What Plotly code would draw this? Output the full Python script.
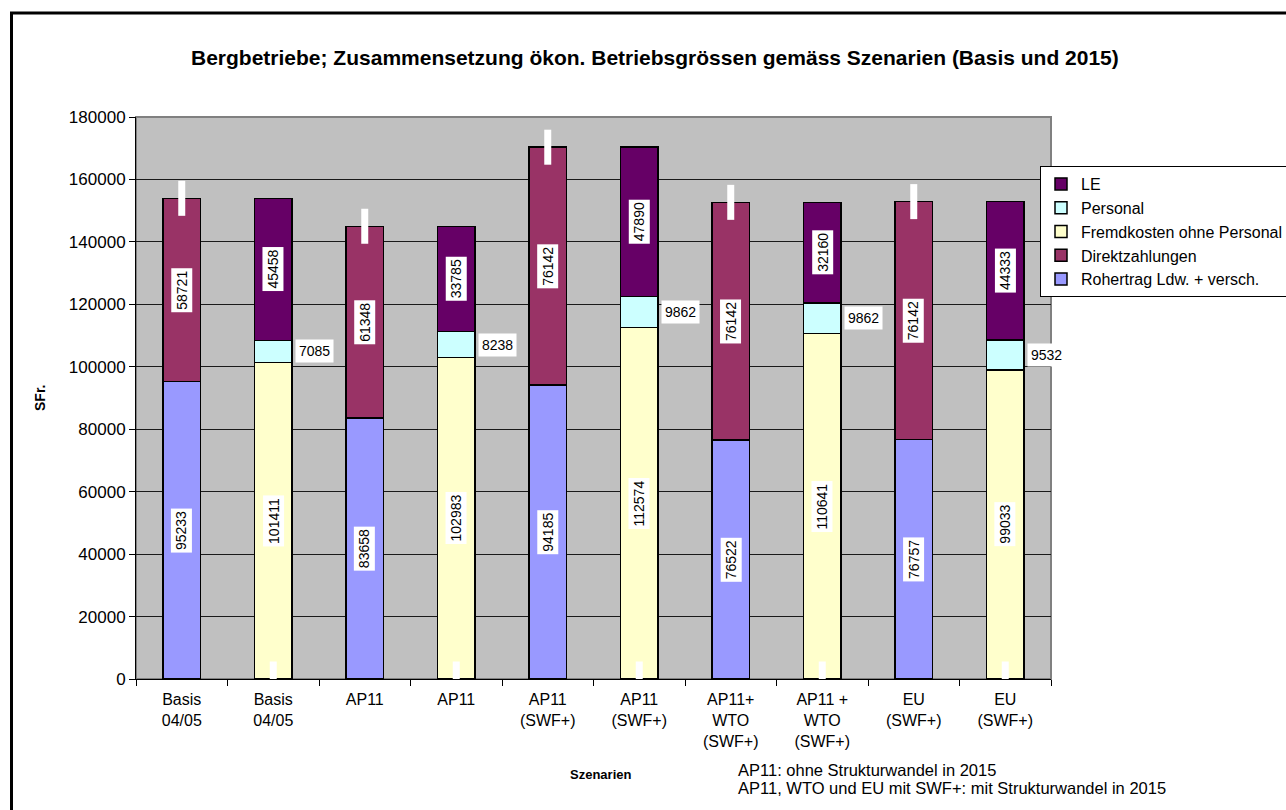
import plotly.graph_objects as go

categories = ["Basis<br>04/05", "Basis<br>04/05", "AP11", "AP11", "AP11<br>(SWF+)", "AP11<br>(SWF+)",
              "AP11+<br>WTO<br>(SWF+)", "AP11 +<br>WTO<br>(SWF+)", "EU<br>(SWF+)", "EU<br>(SWF+)"]
rohertrag = [95233, None, 83658, None, 94185, None, 76522, None, 76757, None]
direktzahlungen = [58721, None, 61348, None, 76142, None, 76142, None, 76142, None]
fremdkosten = [None, 101411, None, 102983, None, 112574, None, 110641, None, 99033]
personal = [None, 7085, None, 8238, None, 9862, None, 9862, None, 9532]
le = [None, 45458, None, 33785, None, 47890, None, 32160, None, 44333]

series = [
    ("Rohertrag Ldw. + versch.", rohertrag, "#9999FF"),
    ("Direktzahlungen", direktzahlungen, "#993366"),
    ("Fremdkosten ohne Personal", fremdkosten, "#FFFFCC"),
    ("Personal", personal, "#CCFFFF"),
    ("LE", le, "#660066"),
]

FONT = "Arial, Liberation Sans, sans-serif"
L, R, T, B = 136, 235, 117, 131
W, H = 1286, 810
pw, ph = W - L - R, H - T - B


def px_x(px):
    return (px - L) / pw


def px_y(py):
    return (H - B - py) / ph


x = list(range(len(categories)))
fig = go.Figure()
for name, vals, col in series:
    fig.add_trace(go.Bar(x=x, y=vals, name=name, width=0.41,
                         marker=dict(color=col, line=dict(color="black", width=1.5))))

annotations = []
font_lab = dict(family=FONT, size=14, color="black")
bases = [0] * len(x)
for name, vals, col in series:
    for i, v in enumerate(vals):
        if v is None:
            continue
        mid = bases[i] + v / 2
        if name == "Personal":
            annotations.append(dict(x=i + 0.205, y=mid, xref="x", yref="y", text=str(v),
                                    showarrow=False, xanchor="left", yanchor="middle", xshift=3,
                                    bgcolor="white", borderpad=3, font=font_lab))
        else:
            annotations.append(dict(x=i, y=mid, xref="x", yref="y", text=str(v),
                                    showarrow=False, textangle=-90, xanchor="center", yanchor="middle",
                                    bgcolor="white", borderpad=2, font=font_lab))
        bases[i] += v

# white empty-label marks (zero-valued labels)
mark_x, mark_y = [], []
for i in x:
    mark_x.append(i)
    mark_y.append(bases[i] if rohertrag[i] is not None else 0)
fig.add_trace(go.Scatter(x=mark_x, y=mark_y, mode="markers", showlegend=False, hoverinfo="skip",
                         marker=dict(symbol="line-ns-open", size=25, color="white",
                                     line=dict(color="white", width=7))))


def paper_text(px, py, text, size, bold=False, xanchor="center", angle=0):
    return dict(x=px_x(px), y=px_y(py), xref="paper", yref="paper", showarrow=False,
                xanchor=xanchor, yanchor="middle", textangle=angle,
                text=f"<b>{text}</b>" if bold else text,
                font=dict(family=FONT, size=size, color="black"))


annotations += [
    paper_text(655, 58, "Bergbetriebe; Zusammensetzung ökon. Betriebsgrössen gemäss Szenarien (Basis und 2015)",
               21, bold=True),
    paper_text(40, 398, "SFr.", 14, bold=True, angle=-90),
    paper_text(600, 775, "Szenarien", 13, bold=True),
    paper_text(736, 770, "AP11: ohne Strukturwandel in 2015", 16.5, xanchor="left"),
    paper_text(736, 788, "AP11, WTO und EU mit SWF+: mit Strukturwandel in 2015", 16.5, xanchor="left"),
]

shapes = [
    dict(type="line", xref="paper", yref="paper", x0=px_x(11.5), x1=px_x(11.5), y0=px_y(12), y1=px_y(812),
         line=dict(color="black", width=3)),
    dict(type="line", xref="paper", yref="paper", x0=px_x(10), x1=px_x(1290), y0=px_y(13), y1=px_y(13),
         line=dict(color="black", width=3)),
    dict(type="rect", xref="paper", yref="paper", x0=0, x1=1, y0=0, y1=1,
         line=dict(color="#808080", width=2), layer="below"),
]

fig.update_layout(
    width=W, height=H, barmode="stack",
    margin=dict(l=L, r=R, t=T, b=B, autoexpand=False),
    paper_bgcolor="white", plot_bgcolor="#C0C0C0",
    font=dict(family=FONT, size=15, color="black"),
    showlegend=True,
    legend=dict(x=px_x(1040), y=px_y(166), xanchor="left", yanchor="top", traceorder="reversed",
                bgcolor="white", bordercolor="black", borderwidth=1,
                font=dict(family=FONT, size=16, color="black"),
                itemwidth=30),
    annotations=annotations, shapes=shapes,
)
fig.update_xaxes(range=[-0.5, 9.5], tickvals=x, ticktext=categories, ticks="", showgrid=False,
                 showline=True, linecolor="black", linewidth=1,
                 tickfont=dict(size=16),
                 minor=dict(tickvals=[i - 0.5 for i in range(11)], ticks="outside", ticklen=6,
                            tickcolor="black", showgrid=False),
                 ticklabelstandoff=6, fixedrange=True)
fig.update_yaxes(range=[0, 180000], dtick=20000, tickformat="d", ticks="outside", ticklen=6,
                 tickcolor="black", showgrid=True, gridcolor="#1a1a1a", gridwidth=1, showline=True,
                 linecolor="black", linewidth=1, tickfont=dict(size=17), zeroline=False, fixedrange=True)

fig.write_html("out.html", config={"displayModeBar": False},
               post_script="document.body.style.margin='0';")
